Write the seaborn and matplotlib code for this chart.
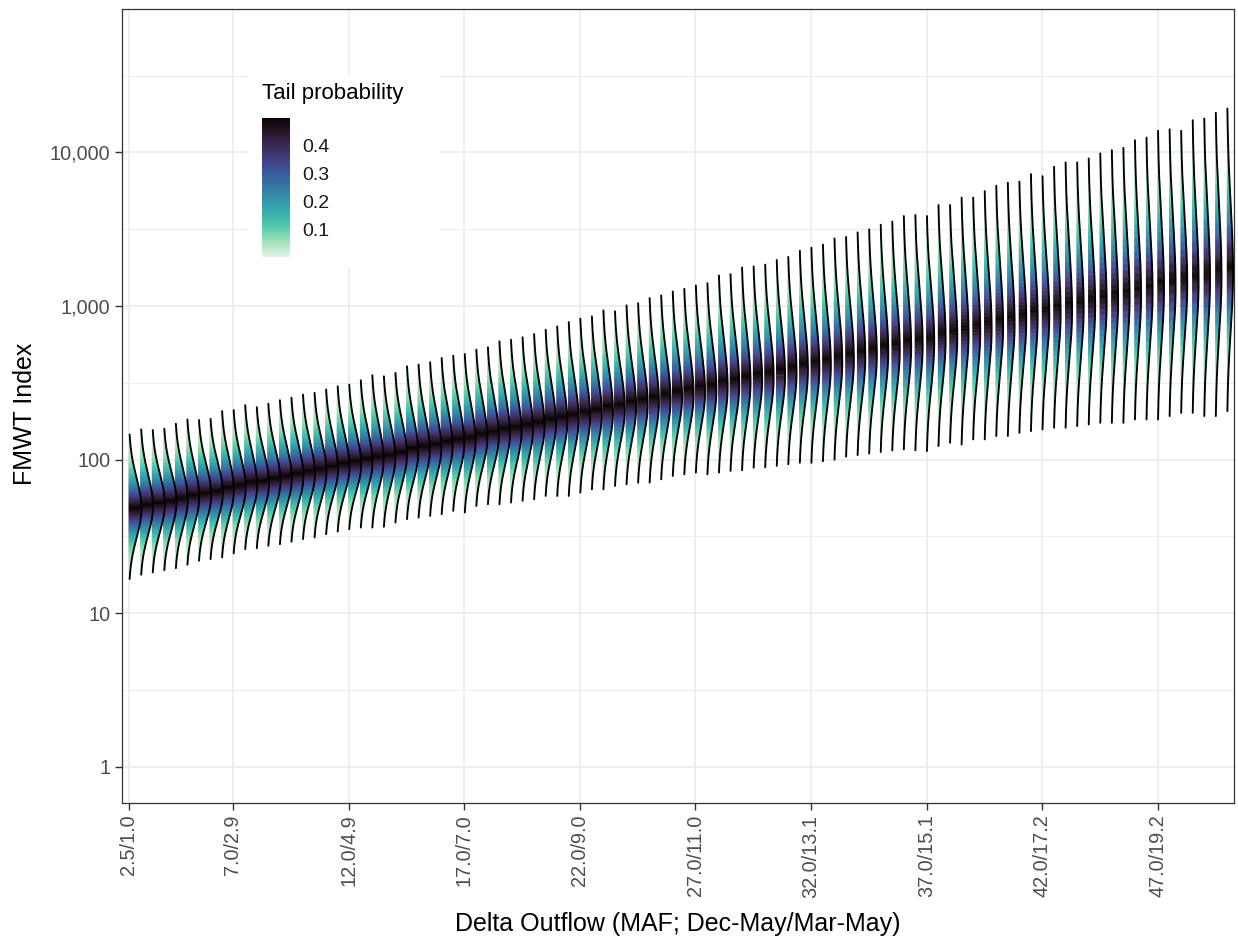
import math
import numpy as np
import pandas as pd
import matplotlib
matplotlib.use("Agg")
import matplotlib.pyplot as plt
import seaborn as sns
from matplotlib.collections import PolyCollection
from matplotlib.colors import Normalize
from matplotlib.ticker import FixedLocator, NullFormatter
from matplotlib.patches import Rectangle
import matplotlib.cm as cm

# ---------------- data ----------------
dec_may = [2.5, 3.0, 3.5, 4.0, 4.5, 5.0, 5.5, 6.0, 6.5, 7.0,
           7.5, 8.0, 8.5, 9.0, 9.5, 10.0, 10.5, 11.0, 11.5, 12.0,
           12.5, 13.0, 13.5, 14.0, 14.5, 15.0, 15.5, 16.0, 16.5, 17.0,
           17.5, 18.0, 18.5, 19.0, 19.5, 20.0, 20.5, 21.0, 21.5, 22.0,
           22.5, 23.0, 23.5, 24.0, 24.5, 25.0, 25.5, 26.0, 26.5, 27.0,
           27.5, 28.0, 28.5, 29.0, 29.5, 30.0, 30.5, 31.0, 31.5, 32.0,
           32.5, 33.0, 33.5, 34.0, 34.5, 35.0, 35.5, 36.0, 36.5, 37.0,
           37.5, 38.0, 38.5, 39.0, 39.5, 40.0, 40.5, 41.0, 41.5, 42.0,
           42.5, 43.0, 43.5, 44.0, 44.5, 45.0, 45.5, 46.0, 46.5, 47.0,
           47.5, 48.0, 48.5, 49.0, 49.5, 50.0]

tick_dec_may = [2.5, 7.0, 12.0, 17.0, 22.0, 27.0, 32.0, 37.0, 42.0, 47.0]
tick_labels = ["2.5/1.0", "7.0/2.9", "12.0/4.9", "17.0/7.0", "22.0/9.0",
               "27.0/11.0", "32.0/13.1", "37.0/15.1", "42.0/17.2", "47.0/19.2"]

# median of FMWT index per category (log10 units)
median_log10 = [1.680, 1.695, 1.710, 1.724, 1.739, 1.754, 1.769, 1.784, 1.799, 1.814,
                1.829, 1.844, 1.859, 1.874, 1.889, 1.904, 1.919, 1.934, 1.950, 1.965,
                1.980, 1.995, 2.011, 2.026, 2.041, 2.057, 2.072, 2.088, 2.103, 2.119,
                2.135, 2.150, 2.166, 2.181, 2.197, 2.213, 2.229, 2.244, 2.260, 2.276,
                2.292, 2.308, 2.324, 2.340, 2.356, 2.372, 2.388, 2.404, 2.420, 2.436,
                2.453, 2.469, 2.485, 2.501, 2.518, 2.534, 2.550, 2.567, 2.583, 2.600,
                2.616, 2.633, 2.649, 2.666, 2.682, 2.699, 2.716, 2.732, 2.749, 2.766,
                2.783, 2.799, 2.816, 2.833, 2.850, 2.867, 2.884, 2.901, 2.918, 2.935,
                2.952, 2.969, 2.986, 3.003, 3.021, 3.038, 3.055, 3.072, 3.090, 3.107,
                3.125, 3.142, 3.159, 3.177, 3.194, 3.212]

# upper end of each distribution (log10 units)
upper_log10 = [2.164, 2.197, 2.193, 2.201, 2.234, 2.262, 2.258, 2.266, 2.316, 2.323,
               2.355, 2.342, 2.364, 2.387, 2.403, 2.424, 2.435, 2.457, 2.478, 2.489,
               2.517, 2.550, 2.543, 2.565, 2.608, 2.619, 2.634, 2.662, 2.677, 2.688,
               2.716, 2.732, 2.771, 2.781, 2.797, 2.818, 2.846, 2.868, 2.896, 2.918,
               2.933, 2.972, 2.966, 3.005, 3.019, 3.052, 3.069, 3.095, 3.112, 3.134,
               3.149, 3.199, 3.208, 3.251, 3.258, 3.270, 3.300, 3.320, 3.360, 3.380,
               3.400, 3.440, 3.450, 3.480, 3.500, 3.530, 3.550, 3.586, 3.593, 3.586,
               3.658, 3.658, 3.706, 3.706, 3.749, 3.784, 3.803, 3.810, 3.859, 3.846,
               3.907, 3.935, 3.935, 3.961, 3.994, 4.015, 4.030, 4.080, 4.097, 4.141,
               4.151, 4.141, 4.210, 4.221, 4.258, 4.286]

# lower end of each distribution (log10 units)
lower_log10 = [1.223, 1.251, 1.266, 1.281, 1.294, 1.316, 1.342, 1.353, 1.364, 1.390,
               1.418, 1.424, 1.440, 1.450, 1.466, 1.483, 1.494, 1.515, 1.532, 1.548,
               1.558, 1.558, 1.563, 1.591, 1.613, 1.623, 1.634, 1.645, 1.667, 1.656,
               1.699, 1.710, 1.710, 1.721, 1.732, 1.742, 1.764, 1.764, 1.764, 1.786,
               1.807, 1.807, 1.829, 1.840, 1.850, 1.851, 1.872, 1.894, 1.905, 1.916,
               1.905, 1.916, 1.927, 1.931, 1.948, 1.950, 1.960, 1.970, 1.980, 1.980,
               1.990, 2.000, 2.020, 2.030, 2.040, 2.050, 2.060, 2.067, 2.061, 2.056,
               2.089, 2.110, 2.099, 2.132, 2.132, 2.154, 2.154, 2.175, 2.186, 2.197,
               2.208, 2.208, 2.219, 2.229, 2.240, 2.240, 2.240, 2.262, 2.262, 2.262,
               2.284, 2.305, 2.305, 2.284, 2.284, 2.316]

# ---------------- style ----------------
sns.set_theme(style="white")
plt.rcParams['font.family'] = ['Liberation Sans', 'DejaVu Sans']

W, H = 1238, 938
fig = plt.figure(figsize=(W / 100, H / 100), dpi=100)
L, R, T, B = 122, 1234, 9, 803
ax = fig.add_axes([L / W, 1 - B / H, (R - L) / W, (B - T) / H])

cmap = sns.color_palette("mako_r", as_cmap=True)
norm = Normalize(0, 0.5)
phi = np.vectorize(lambda z: 0.5 * (1 + math.erf(z / math.sqrt(2))))

K = 2.4
n_cat = len(dec_may)
med = np.array(median_log10)
up = np.array(upper_log10)
lo = np.array(lower_log10)
s_up = (up - med) / K
s_lo = (med - lo) / K
peak = 2 / (np.sqrt(2 * np.pi) * (s_up + s_lo))
scale = 1.12 / peak.max()

verts, cols, rows = [], [], []
for i in range(n_cat):
    y = np.linspace(lo[i], up[i], 320)
    z = np.where(y < med[i], (y - med[i]) / s_lo[i], (y - med[i]) / s_up[i])
    dens = peak[i] * np.exp(-0.5 * z ** 2)
    S = s_lo[i] + s_up[i]
    P = phi(z)
    cdf = np.where(y < med[i], 2 * s_lo[i] / S * P, s_lo[i] / S + 2 * s_up[i] / S * (P - 0.5))
    tail = np.minimum(cdf, 1 - cdf)
    t = dens * scale
    Y = 10 ** y
    for j in range(len(y) - 1):
        verts.append([(i, Y[j]), (i + t[j], Y[j]), (i + t[j + 1], Y[j + 1]), (i, Y[j + 1])])
        cols.append(0.5 * (tail[j] + tail[j + 1]))
    rows.append(pd.DataFrame({"x": i + t, "y": Y, "cat": i}))

fc = cmap(norm(np.array(cols)))
pc = PolyCollection(verts, facecolors=fc, edgecolors=fc, linewidths=0.35, zorder=2)
ax.add_collection(pc)

df = pd.concat(rows, ignore_index=True)
sns.lineplot(data=df, x="x", y="y", units="cat", estimator=None, sort=False,
             color="black", linewidth=1.35, legend=False, ax=ax, zorder=3)

# ---------------- axes ----------------
ax.set_yscale("log")
ax.set_ylim(10 ** -0.235, 10 ** 4.934)
ax.set_xlim(-0.6, n_cat - 0.4)

ax.yaxis.set_major_locator(FixedLocator([1, 10, 100, 1000, 10000]))
ax.set_yticklabels(["1", "10", "100", "1,000", "10,000"])
ax.yaxis.set_minor_locator(FixedLocator([10 ** 0.5, 10 ** 1.5, 10 ** 2.5, 10 ** 3.5, 10 ** 4.5]))
ax.yaxis.set_minor_formatter(NullFormatter())

tick_pos = [dec_may.index(v) for v in tick_dec_may]
ax.set_xticks(tick_pos)
ax.set_xticklabels(tick_labels, rotation=90)
ax.xaxis.set_minor_locator(FixedLocator([]))

ax.set_axisbelow(True)
ax.grid(which="major", axis="both", color="#EBEBEB", linewidth=1.1, zorder=0)
ax.grid(which="minor", axis="y", color="#EBEBEB", linewidth=0.6, zorder=0)
ax.tick_params(which="major", length=4.8, width=1.0, color="#333333",
               labelcolor="#4D4D4D", labelsize=14.3, pad=3.5,
               bottom=True, left=True)
ax.tick_params(which="minor", length=0)
for sp in ax.spines.values():
    sp.set_visible(True)
    sp.set_color("#333333")
    sp.set_linewidth(0.9)

ax.set_xlabel("Delta Outflow (MAF; Dec-May/Mar-May)", fontsize=18, color="black")
ax.set_ylabel("FMWT Index", fontsize=18, color="black")
ax.xaxis.set_label_coords(0.5, -0.1375)
ax.yaxis.set_label_coords(-0.076, 0.49)

# ---------------- legend (colour bar) ----------------
ax.add_patch(Rectangle((248 / W, 1 - 268 / H), (440 - 248) / W, (268 - 75) / H,
                       transform=fig.transFigure, facecolor="white",
                       edgecolor="none", zorder=1))
fig.text(262 / W, 1 - 99.5 / H, "Tail probability", fontsize=16,
         ha="left", va="baseline", color="black")
cax = fig.add_axes([262 / W, 1 - 257 / H, 28 / W, 139 / H])
cb = fig.colorbar(cm.ScalarMappable(norm=norm, cmap=cmap), cax=cax,
                  ticks=[0.1, 0.2, 0.3, 0.4])
cb.outline.set_visible(False)
cax.yaxis.set_ticks_position("both")
cax.tick_params(direction="in", length=5.5, width=0.9, color="white",
                labelsize=14, pad=9, labelleft=False, labelright=True,
                labelcolor="#1A1A1A")

fig.savefig("out.png", dpi=100)
